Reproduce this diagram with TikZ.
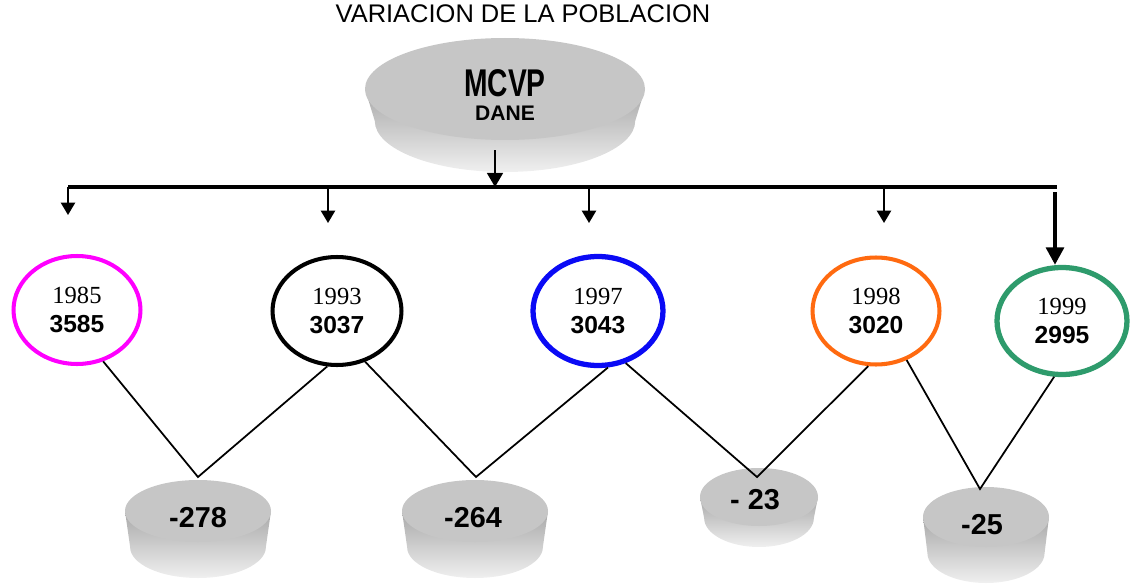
\documentclass[tikz,border=0pt]{standalone}
\usepackage{fontspec}
\setmainfont{Liberation Sans}
\newfontfamily\anyofont{Liberation Serif}
\usetikzlibrary{arrows.meta,shapes.geometric}
\definecolor{rosado}{HTML}{FF00FF}
\definecolor{azul}{HTML}{0A0AF5}
\definecolor{naranja}{HTML}{FF6A10}
\definecolor{verde}{HTML}{2E9B6C}
\definecolor{cara}{HTML}{C6C6C6}

\begin{document}
\begin{tikzpicture}[x=0.02cm, y=0.02cm,
  anio/.style={ellipse, draw, line width=2.3pt, inner sep=0pt, align=center,
    font=\fontsize{14}{16.5}\selectfont},
  valor/.style={font=\fontsize{16.4}{18}\selectfont\bfseries, inner sep=0pt},
  flechita/.style={line width=1.2pt, -{Triangle[width=8pt,length=7pt]}},
  zig/.style={line width=1pt}]
  \useasboundingbox (0,0) rectangle (1130,586);

  % discos
  \foreach \cx/\cy/\rx/\ry/\h in {505/497/140/51/32, 198/75/73/31/36,
      475/75/73/31/36, 759/89/59/29/21, 986/69/63/30/36} {
    \shade[top color=cara!85!black, bottom color=gray!12]
      ({\cx-\rx},\cy) -- ({\cx-0.93*\rx},{\cy-\h})
      arc[start angle=180, end angle=360, x radius={0.93*\rx}, y radius=\ry]
      -- ({\cx+\rx},\cy) -- cycle;
    \fill[cara] (\cx,\cy) ellipse[x radius=\rx, y radius=\ry];
  }

  \node (titulo) at (523,572) {\fontsize{14.5}{16}\selectfont VARIACION DE LA POBLACION};
  \node (mcvp) at (505,503) {\fontsize{22}{24}\selectfont\bfseries\scalebox{0.73}[1]{MCVP}};
  \node (dane) at (505,473) {\fontsize{12}{14}\selectfont\bfseries DANE};

  \node (c85) [anio, draw=rosado, minimum width=2.54cm, minimum height=2.16cm] at (77,276)
    {{\anyofont 1985}\\\textbf{3585}};
  \node (c93) [anio, draw=black, minimum width=2.58cm, minimum height=2.16cm] at (337,275)
    {{\anyofont 1993}\\\textbf{3037}};
  \node (c97) [anio, draw=azul, line width=3pt, minimum width=2.6cm, minimum height=2.18cm] at (598,275)
    {{\anyofont 1997}\\\textbf{3043}};
  \node (c98) [anio, draw=naranja, minimum width=2.54cm, minimum height=2.14cm] at (876,275)
    {{\anyofont 1998}\\\textbf{3020}};
  \node (c99) [anio, draw=verde, line width=3pt, minimum width=2.6cm, minimum height=2.14cm] at (1062,265)
    {{\anyofont 1999}\\\textbf{2995}};

  \node (n1) [valor] at (198,68) {-278};
  \node (n2) [valor] at (473,68) {-264};
  \node (n3) [valor] at (755,86) {- 23};
  \node (n4) [valor] at (982,61) {-25};

  \coordinate (m0) at (495,436);
  \coordinate (m1) at (495,399);
  \coordinate (busL) at (68,399);
  \coordinate (busR) at (1057,399);
  \coordinate (b1) at (68,399);  \coordinate (t1) at (68,371);
  \coordinate (b2) at (328,399); \coordinate (t2) at (328,363);
  \coordinate (b3) at (589,399); \coordinate (t3) at (589,363);
  \coordinate (b4) at (884,399); \coordinate (t4) at (884,363);
  \coordinate (b5) at (1055,394);
  \coordinate (v1) at (198,109);
  \coordinate (v2) at (476,109);
  \coordinate (v3) at (757,109);
  \coordinate (v4) at (980,97);

  \draw [line width=2.3pt] (busL) -- (busR);
  \draw [line width=1.2pt, -{Triangle[width=9pt,length=8pt]}] (m0) -- (m1);
  \draw [flechita] (b1) -- (t1);
  \draw [flechita] (b2) -- (t2);
  \draw [flechita] (b3) -- (t3);
  \draw [flechita] (b4) -- (t4);
  \draw [line width=2.8pt, -{Triangle[width=10pt,length=10pt]}] (b5) -- (b5 |- c99.north);

  \draw [zig] (c85.-63) -- (v1) -- (c93.-100);
  \draw [zig] (c93.-61) -- (v2) -- (c97.-80);
  \draw [zig] (c97.-62) -- (v3) -- (c98.-98);
  \draw [zig] (c98.-58) -- (v4) -- (c99.-98);
\end{tikzpicture}
\end{document}
